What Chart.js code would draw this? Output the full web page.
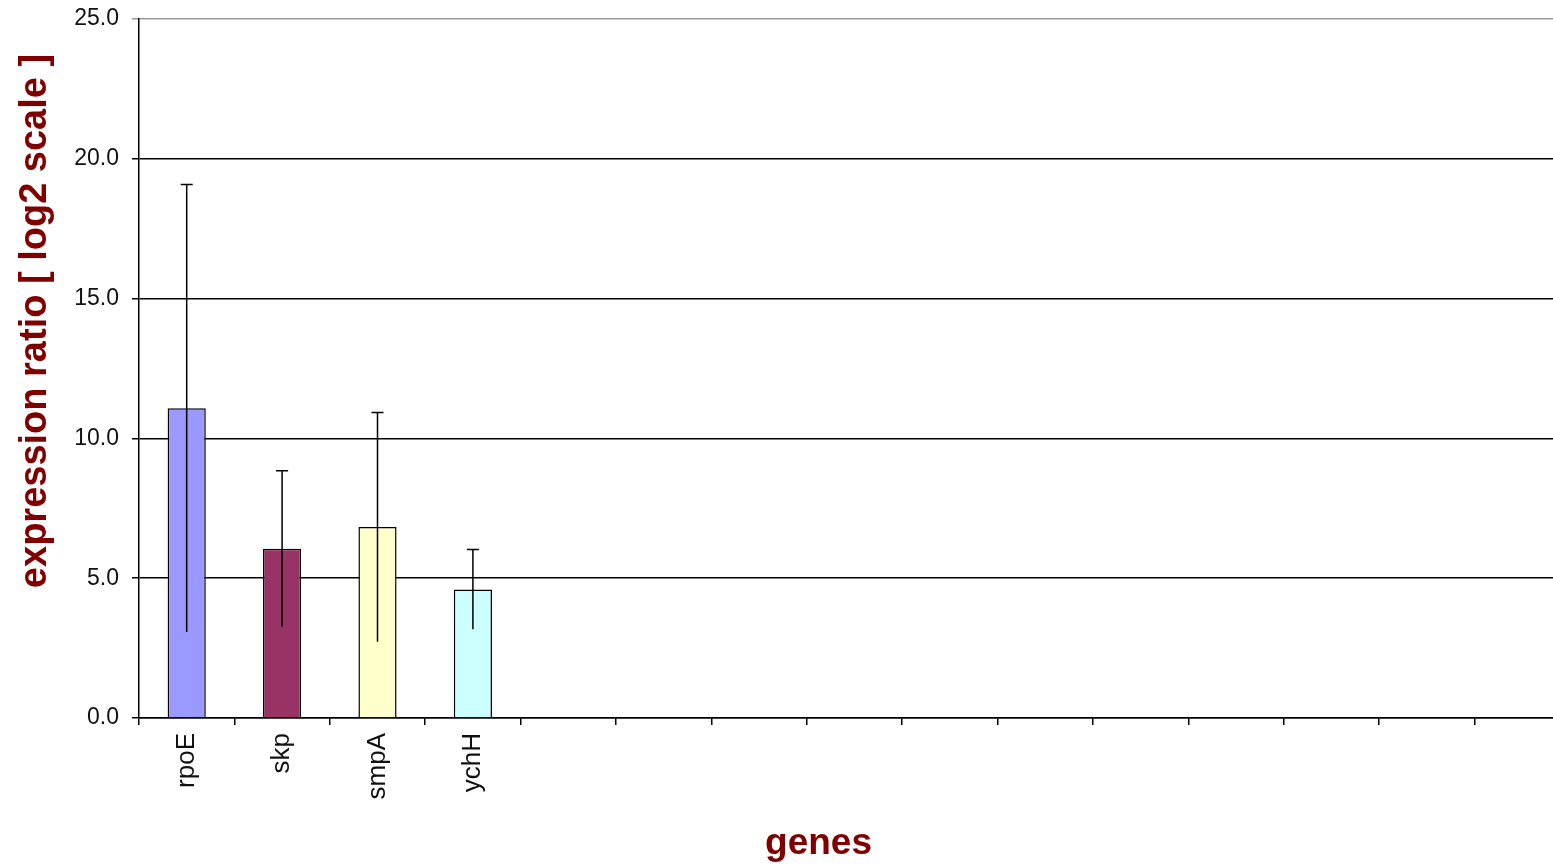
<!DOCTYPE html>
<html>
<head>
<meta charset="utf-8">
<title>expression ratio</title>
<script src="https://cdn.jsdelivr.net/npm/chart.js@4/dist/chart.umd.min.js"></script>
<style>
    html, body {
        margin: 0;
        padding: 0;
        background: #fff;
        overflow: hidden;
    }
    #chartBox {
        width: 1571px;
        height: 866px;
    }
</style>
</head>
<body>
<div id="chartBox">
    <canvas id="ratioChart" width="1571" height="866"></canvas>
</div>
<script>
// categories (the sheet has 15 slots, only the first four are filled)
const genes = ['rpoE', 'skp', 'smpA', 'ychH', '', '', '', '', '', '', '', '', '', '', ''];
// mean expression ratio, log2 scale
const ratios = [11.08, 6.05, 6.83, 4.60];
// +/- error
const errors = [8.0, 2.79, 4.1, 1.43];
const barColors = ['#9999FF', '#993366', '#FFFFCC', '#CCFFFF'];
const yTicks = [0, 5, 10, 15, 20, 25];

const FONT = "'Liberation Sans', Arial, sans-serif";
const TITLE_RED = '#800000';

/**
 * Draw error bars (line + top cap) over each bar
 */
const errorBars = {
    id: 'errorBars',
    afterDatasetsDraw(chart) {
        const meta = chart.getDatasetMeta(0);
        const yScale = chart.scales.y;
        const ctx = chart.ctx;

        ctx.save();
        ctx.strokeStyle = '#000';
        ctx.lineWidth = 1.5;
        meta.data.forEach((bar, i) => {
            if (errors[i] == null) return;
            const top = yScale.getPixelForValue(ratios[i] + errors[i]);
            const bottom = yScale.getPixelForValue(ratios[i] - errors[i]);
            ctx.beginPath();
            ctx.moveTo(bar.x, bottom);
            ctx.lineTo(bar.x, top);
            ctx.moveTo(bar.x - 6, top);
            ctx.lineTo(bar.x + 6, top);
            ctx.stroke();
        });
        ctx.restore();
    }
};

const ctx = document.getElementById('ratioChart').getContext('2d');
new Chart(ctx, {
    type: 'bar',
    data: {
        labels: genes,
        datasets: [{
            data: ratios,
            backgroundColor: barColors,
            borderColor: '#000',
            borderWidth: 1.5,
            borderSkipped: 'bottom',
            barPercentage: 0.4,
            categoryPercentage: 1.0
        }]
    },
    options: {
        responsive: false,
        animation: false,
        layout: {
            padding: { top: 19, right: 1, left: 0, bottom: 0 }
        },
        plugins: {
            legend: { display: false },
            tooltip: { enabled: false }
        },
        scales: {
            x: {
                offset: true,
                grid: {
                    offset: true,
                    drawOnChartArea: false,
                    drawTicks: true,
                    tickLength: 7,
                    lineWidth: 1.5,
                    color: '#000'
                },
                border: { color: '#000', width: 1.5 },
                ticks: {
                    autoSkip: false,
                    minRotation: 90,
                    maxRotation: 90,
                    padding: 8,
                    color: '#111',
                    font: { family: FONT, size: 26 }
                },
                title: {
                    display: true,
                    // trailing spaces nudge the label left of the plot centre
                    text: 'genes       ',
                    color: TITLE_RED,
                    padding: { top: 0, bottom: 0 },
                    font: { family: FONT, size: 37, weight: 'bold' }
                },
                afterFit(scale) {
                    scale.height = 148;
                }
            },
            y: {
                min: 0,
                max: 25,
                afterBuildTicks(scale) {
                    scale.ticks = yTicks.map(v => ({ value: v }));
                },
                grid: {
                    color: c => (c.tick && c.tick.value === 25 ? '#999' : '#000'),
                    lineWidth: 1.5,
                    tickLength: 7
                },
                border: { color: '#000', width: 1.5 },
                ticks: {
                    padding: 13,
                    color: '#111',
                    font: { family: FONT, size: 23 },
                    callback: v => Number(v).toFixed(1)
                },
                title: {
                    display: true,
                    // leading spaces push the label up, as in the original sheet
                    text: '         expression ratio [ log2 scale ]',
                    color: TITLE_RED,
                    padding: { top: 13, bottom: 0 },
                    font: { family: FONT, size: 38, weight: 'bold' }
                },
                afterFit(scale) {
                    scale.width = 139;
                    // let the layout padding alone decide where the plot starts
                    scale.paddingTop = 0;
                    scale.paddingBottom = 0;
                }
            }
        }
    },
    plugins: [errorBars]
});
</script>
</body>
</html>
